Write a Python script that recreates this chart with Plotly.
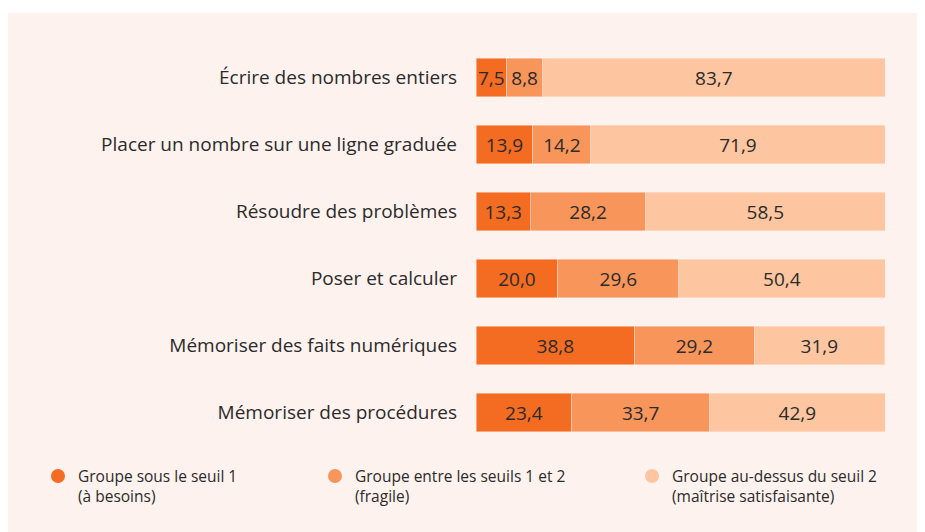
import plotly.graph_objects as go

categories = [
    "Écrire des nombres entiers",
    "Placer un nombre sur une ligne graduée",
    "Résoudre des problèmes",
    "Poser et calculer",
    "Mémoriser des faits numériques",
    "Mémoriser des procédures",
]
sous_seuil_1 = [7.5, 13.9, 13.3, 20.0, 38.8, 23.4]
entre_seuils = [8.8, 14.2, 28.2, 29.6, 29.2, 33.7]
au_dessus_seuil_2 = [83.7, 71.9, 58.5, 50.4, 31.9, 42.9]

series_names = [
    "Groupe sous le seuil 1<br>(à besoins)",
    "Groupe entre les seuils 1 et 2<br>(fragile)",
    "Groupe au-dessus du seuil 2<br>(maîtrise satisfaisante)",
]
colors = ["#F36C21", "#F7955B", "#FDC6A0"]

FONT = "Open Sans"
TXT = "#2b2b2b"
OFF = 8  # page body margin
W, H = 925, 532
ML, MR, MT, MB = 468, 48, 36, 93.5
PW, PH = W - ML - MR, H - MT - MB

def px_x(p):
    return (p - OFF - ML) / PW

def px_y(p):
    return (H - MB - (p - OFF)) / PH

fig = go.Figure()
for vals, name, col in zip([sous_seuil_1, entre_seuils, au_dessus_seuil_2], series_names, colors):
    fig.add_trace(go.Bar(
        y=categories, x=vals, orientation="h", name=name,
        marker=dict(color=col, line=dict(color="rgba(255,235,222,0.6)", width=0.8)),
        texttemplate="%{x:.1f}", textposition="inside", insidetextanchor="middle",
        constraintext="none", textangle=0,
        textfont=dict(family=FONT, size=19, color=TXT),
        showlegend=False, hoverinfo="skip",
    ))

legend_ids = ["legend", "legend2", "legend3"]
text_x = [78, 355, 672]
for name, col, lid in zip(series_names, colors, legend_ids):
    fig.add_trace(go.Scatter(
        x=[None], y=[None], mode="markers", name=name,
        marker=dict(color=col, size=14, symbol="circle"),
        legend=lid, showlegend=True,
    ))

legend_common = dict(
    orientation="h", xanchor="left", yanchor="top", valign="top",
    bgcolor="rgba(0,0,0,0)", borderwidth=0, itemwidth=30,
    font=dict(family=FONT, size=15.5, color=TXT),
)
layout_legends = {}
for lid, tx in zip(legend_ids, text_x):
    layout_legends[lid] = dict(legend_common, x=px_x(tx - 40), y=px_y(460))

fig.update_layout(
    width=W, height=H,
    margin=dict(l=ML, r=MR, t=MT, b=MB),
    paper_bgcolor="white", plot_bgcolor="rgba(0,0,0,0)",
    barmode="stack", bargap=0.42,
    separators=", ",
    font=dict(family=FONT, size=19, color=TXT),
    xaxis=dict(range=[0, 100], visible=False, fixedrange=True),
    yaxis=dict(autorange="reversed", showgrid=False, showline=False, zeroline=False,
               ticks="", ticklabelstandoff=18,
               tickfont=dict(family=FONT, size=19, color=TXT)),
    shapes=[dict(type="rect", xref="paper", yref="paper",
                 x0=px_x(8), x1=px_x(W + 20), y0=px_y(H + 20), y1=px_y(13),
                 fillcolor="#FEF2EE", line=dict(width=0), layer="below")],
    **layout_legends,
)

fig.write_html("out.html")
